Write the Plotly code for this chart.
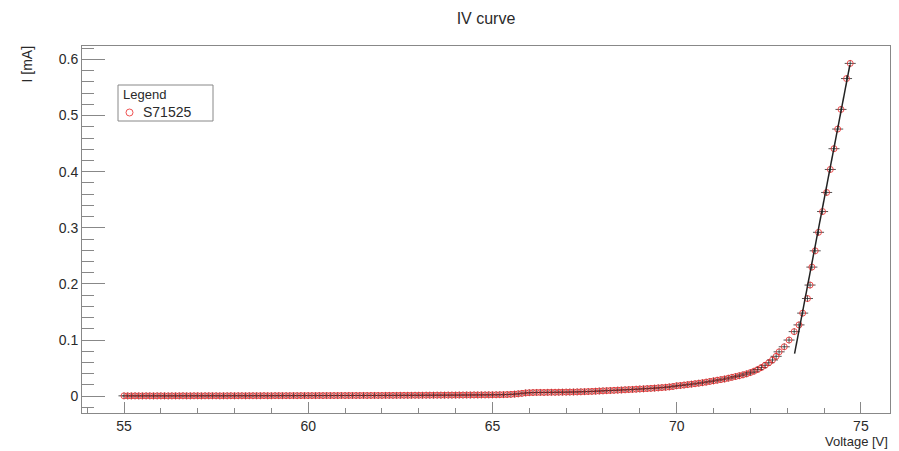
import numpy as np
import plotly.graph_objects as go

# ---------------- data ----------------
# voltage sweep (low region, 0.1 V steps from 55.0 to 72.7 V)
v_low = np.round(np.arange(550, 728, 1) / 10.0, 1)
i_low = [
    # 55.0 - 55.9
    0.0006, 0.0005, 0.0005, 0.0006, 0.0005, 0.0005, 0.0006, 0.0006, 0.0005, 0.0006,
    # 56.0 - 56.9
    0.0006, 0.0006, 0.0005, 0.0006, 0.0006, 0.0006, 0.0007, 0.0006, 0.0006, 0.0007,
    # 57.0 - 57.9
    0.0007, 0.0006, 0.0007, 0.0007, 0.0007, 0.0007, 0.0006, 0.0007, 0.0007, 0.0008,
    # 58.0 - 58.9
    0.0007, 0.0008, 0.0008, 0.0007, 0.0008, 0.0008, 0.0008, 0.0008, 0.0009, 0.0008,
    # 59.0 - 59.9
    0.0008, 0.0009, 0.0009, 0.0009, 0.0009, 0.0009, 0.0010, 0.0009, 0.0010, 0.0010,
    # 60.0 - 60.9
    0.0010, 0.0010, 0.0010, 0.0011, 0.0010, 0.0011, 0.0011, 0.0011, 0.0011, 0.0012,
    # 61.0 - 61.9
    0.0011, 0.0012, 0.0012, 0.0012, 0.0012, 0.0013, 0.0012, 0.0013, 0.0013, 0.0013,
    # 62.0 - 62.9
    0.0013, 0.0014, 0.0014, 0.0014, 0.0014, 0.0015, 0.0015, 0.0015, 0.0015, 0.0016,
    # 63.0 - 63.9
    0.0016, 0.0016, 0.0017, 0.0017, 0.0017, 0.0018, 0.0018, 0.0018, 0.0019, 0.0019,
    # 64.0 - 64.9
    0.0019, 0.0020, 0.0020, 0.0021, 0.0021, 0.0022, 0.0022, 0.0023, 0.0023, 0.0024,
    # 65.0 - 65.9
    0.0024, 0.0025, 0.0026, 0.0027, 0.0029, 0.0032, 0.0036, 0.0042, 0.0050, 0.0058,
    # 66.0 - 66.9
    0.0062, 0.0064, 0.0066, 0.0067, 0.0066, 0.0068, 0.0069, 0.0069, 0.0070, 0.0071,
    # 67.0 - 67.9
    0.0072, 0.0073, 0.0074, 0.0076, 0.0078, 0.0080, 0.0082, 0.0085, 0.0088, 0.0092,
    # 68.0 - 68.9
    0.0095, 0.0098, 0.0101, 0.0104, 0.0107, 0.0110, 0.0114, 0.0117, 0.0120, 0.0124,
    # 69.0 - 69.9
    0.0128, 0.0131, 0.0135, 0.0139, 0.0143, 0.0148, 0.0153, 0.0158, 0.0165, 0.0172,
    # 70.0 - 70.9
    0.0185, 0.0190, 0.0198, 0.0206, 0.0214, 0.0222, 0.0231, 0.0240, 0.0250, 0.0262,
    # 71.0 - 71.9
    0.0273, 0.0284, 0.0295, 0.0306, 0.0320, 0.0336, 0.0350, 0.0364, 0.0380, 0.0398,
    # 72.0 - 72.7
    0.0420, 0.0445, 0.0475, 0.0510, 0.0550, 0.0595, 0.0645, 0.0710,
]

# breakdown region (read individually)
v_high = [72.78, 72.92, 73.05, 73.19, 73.32, 73.42, 73.55, 73.62, 73.67, 73.76,
          73.85, 73.96, 74.07, 74.17, 74.27, 74.37, 74.46, 74.61, 74.71]
i_high = [0.079, 0.088, 0.100, 0.115, 0.127, 0.148, 0.174, 0.198, 0.230, 0.259,
          0.292, 0.329, 0.363, 0.404, 0.441, 0.476, 0.511, 0.566, 0.593]

voltage = list(v_low) + v_high
current = i_low + i_high
v_err = [0.15] * len(voltage)
i_err = [0.006] * len(voltage)

# linear fit over the breakdown region
fit_v = [73.2, 74.7]
fit_i = [0.076, 0.590]

series_name = "S71525"
legend_title = "Legend"

# ---------------- figure ----------------
FONT = "Liberation Sans, Arial, Helvetica, sans-serif"
TXT = "#2a2a2a"
RED = "rgba(235,40,40,0.8)"

# plot-area pixel geometry helpers (for the ROOT-style legend box)
L, R, T, B = 82, 890, 46, 413


def px(x):
    return (x - L) / (R - L)


def py(y):
    return (B - y) / (B - T)


fig = go.Figure()
fig.add_trace(go.Scatter(
    x=voltage, y=current, mode="markers", name=series_name, showlegend=False,
    marker=dict(symbol="circle-open", size=6, color=RED, line=dict(width=1, color=RED)),
    error_x=dict(type="data", array=v_err, color="rgba(40,40,40,0.8)", thickness=1, width=0),
    error_y=dict(type="data", array=i_err, color="rgba(40,40,40,0.8)", thickness=1, width=0),
))
fig.add_trace(go.Scatter(
    x=fit_v, y=fit_i, mode="lines", showlegend=False, name="fit",
    line=dict(color="#222222", width=1.5),
))

axis_common = dict(
    showgrid=False, zeroline=False, showline=True, linecolor="#888888", linewidth=1,
    mirror=True, ticks="inside", tickcolor="#888888",
    tickfont=dict(family=FONT, size=14, color=TXT),
)

fig.update_layout(
    width=899, height=451,
    margin=dict(l=L, r=899 - R, t=T, b=451 - B),
    paper_bgcolor="white", plot_bgcolor="white",
    font=dict(family=FONT, color=TXT),
    showlegend=False,
    title=dict(text="IV curve", x=0.5, xref="paper", y=1 - 18 / 451, yanchor="middle",
               font=dict(family=FONT, size=16, color=TXT)),
    xaxis=dict(range=[53.86, 75.79], dtick=5, tick0=55, ticklen=11,
               minor=dict(ticks="inside", dtick=1, ticklen=5, tickcolor="#888888"),
               **axis_common),
    yaxis=dict(range=[-0.030, 0.624], dtick=0.1, tick0=0, ticklen=23,
               minor=dict(ticks="inside", dtick=0.02, ticklen=12, tickcolor="#888888"),
               **axis_common),
    shapes=[
        # legend box
        dict(type="rect", xref="paper", yref="paper", layer="above",
             x0=px(118), x1=px(213), y0=py(121), y1=py(85),
             line=dict(color="#888888", width=1), fillcolor="white"),
        # legend marker
        dict(type="circle", xref="paper", yref="paper", layer="above",
             x0=px(126), x1=px(133), y0=py(116), y1=py(109),
             line=dict(color=RED, width=1)),
    ],
    annotations=[
        dict(text=legend_title, xref="paper", yref="paper", x=px(120.5), y=py(94),
             xanchor="left", yanchor="middle", showarrow=False,
             font=dict(family=FONT, size=13, color=TXT)),
        dict(text=series_name, xref="paper", yref="paper", x=px(140.5), y=py(112),
             xanchor="left", yanchor="middle", showarrow=False,
             font=dict(family=FONT, size=14, color=TXT)),
        dict(text="I [mA]", textangle=-90, xref="paper", yref="paper",
             x=px(26), y=py(43), xanchor="center", yanchor="top",
             showarrow=False, font=dict(family=FONT, size=14, color=TXT)),
        dict(text="Voltage [V]", xref="paper", yref="paper",
             x=1, y=py(441), xanchor="right", yanchor="middle",
             showarrow=False, font=dict(family=FONT, size=13, color=TXT)),
    ],
)

fig.write_html("out.html")
